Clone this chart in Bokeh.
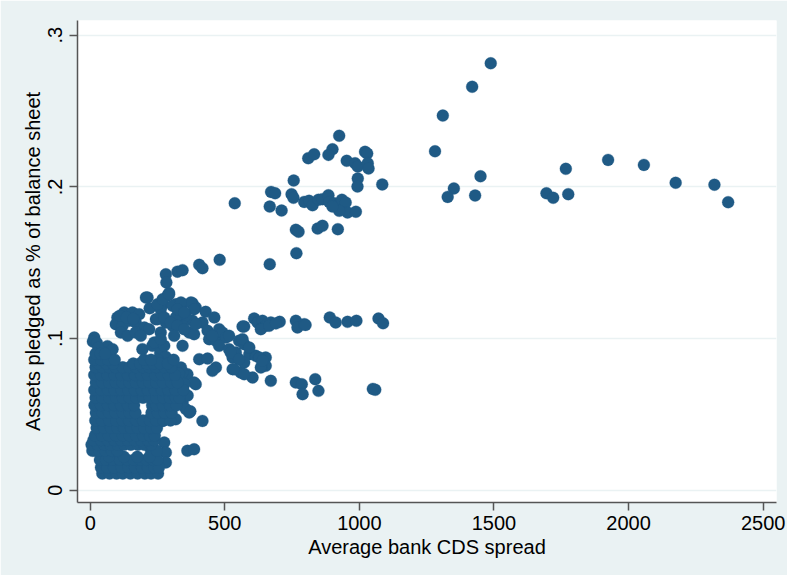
from bokeh.plotting import figure
from bokeh.models import Range1d, FixedTicker, CustomJSTickFormatter
from bokeh.embed import file_html
from bokeh.resources import INLINE

# ---- data: average bank CDS spread (x) vs. assets pledged share (y) ----
outliers_x = [1488, 1419, 1310, 1281, 1450, 1351, 1328, 1430, 1695, 1720, 1776,
              1767, 1924, 2057, 2175, 2319, 2370]
outliers_y = [0.2815, 0.266, 0.247, 0.2235, 0.207, 0.199, 0.1934, 0.1943, 0.1958,
              0.1928, 0.1952, 0.2119, 0.2178, 0.2145, 0.2027, 0.2014, 0.1899]

upper_x = [925, 900, 885, 810, 832, 953, 984, 994, 1021, 1029, 1031, 1034, 1085, 994,
           993, 756, 672, 687, 748, 755, 537, 667, 711, 795, 813, 826, 848, 863, 885,
           888, 906, 919, 935, 949, 956, 925, 987, 900, 764, 774, 845, 863, 920, 766]
upper_y = [0.2337, 0.2248, 0.2211, 0.2189, 0.2215, 0.2172, 0.2156, 0.2134, 0.2231,
           0.222, 0.2156, 0.2121, 0.2016, 0.2055, 0.2002, 0.2042, 0.1967, 0.1958,
           0.1952, 0.1928, 0.1892, 0.187, 0.1844, 0.1901, 0.1908, 0.1879, 0.1915,
           0.1919, 0.1945, 0.1901, 0.1892, 0.1875, 0.1915, 0.1897, 0.1831, 0.1842,
           0.1836, 0.187, 0.1717, 0.1704, 0.1725, 0.1743, 0.1721, 0.1563]

mid_x = [481, 667, 281, 283, 324, 343, 405, 417, 293,
         343, 380, 392, 429, 461, 343, 380, 417, 368, 386, 436, 442, 467, 479, 491,
         504, 479, 553, 572, 516, 541, 591, 529, 615, 652, 405, 436, 572, 609, 622,
         640, 652, 634, 671, 704, 764, 770, 795, 343,
         890, 912, 956, 989, 1071, 1088,
         764, 786, 789, 836, 848, 1059, 1050,
         467, 454, 522, 628, 652, 529, 559, 603, 671, 634, 572,
         361, 343, 392, 343, 368, 417, 361, 386,
         213, 221, 269, 287, 262, 318, 337, 374, 386, 355, 343, 392, 318, 281, 244,
         306, 454, 516, 566, 591, 553, 640, 535, 572, 337, 386, 275, 281, 281, 194,
         225, 331, 306, 269, 318, 269, 219, 293, 269, 324, 293, 324, 275, 256, 269,
         250, 231, 665, 566, 690, 800,
         355, 372, 362, 350, 300, 315, 330, 286, 260, 280, 252, 300]
mid_y = [0.1519, 0.149, 0.1424, 0.137, 0.1441, 0.1451, 0.1486, 0.1464, 0.130,
         0.1226, 0.1233, 0.1205, 0.1176, 0.1139, 0.1139, 0.1117, 0.1106, 0.104,
         0.1029, 0.1051, 0.0996, 0.0985, 0.1062, 0.104, 0.1007, 0.0952, 0.0985,
         0.0963, 0.093, 0.0908, 0.0897, 0.0875, 0.0886, 0.0875, 0.0864, 0.0868,
         0.1079, 0.1132, 0.1106, 0.1117, 0.1084, 0.1062, 0.1106, 0.111, 0.1117,
         0.1073, 0.1095, 0.0952,
         0.1139, 0.1106, 0.111, 0.1117, 0.1132, 0.1101,
         0.071, 0.0699, 0.0633, 0.0732, 0.0655, 0.0662, 0.0668,
         0.0809, 0.0787, 0.0908, 0.0875, 0.082, 0.0798, 0.0776, 0.0743, 0.0721,
         0.0809, 0.0842,
         0.0765, 0.0776, 0.0699, 0.0578, 0.0512, 0.0457, 0.026, 0.027,
         0.127, 0.12, 0.1226, 0.1282, 0.1193, 0.1226, 0.1183, 0.1238, 0.1193, 0.115,
         0.1084, 0.1095, 0.1139, 0.1106, 0.1128, 0.1084, 0.1018, 0.1018, 0.0996,
         0.0941, 0.0864, 0.0853, 0.0798, 0.0765, 0.0809, 0.071, 0.0315, 0.0249,
         0.0183, 0.093, 0.027, 0.0589, 0.0622, 0.0578, 0.0468, 0.0457, 0.0468,
         0.0732, 0.071, 0.0666, 0.0831, 0.0721, 0.0787, 0.0864, 0.0952, 0.0974,
         0.0952, 0.1084, 0.108, 0.110, 0.109,
         0.0535, 0.052, 0.0625, 0.0700, 0.0765, 0.0700, 0.0770, 0.0580, 0.0905,
         0.0880, 0.0860, 0.0520]

blob_x = [101, 126, 157, 182, 95, 120, 145, 169, 201, 219, 114, 139, 169, 188, 207,
          250, 269, 293, 306, 337, 324, 349, 250, 275, 299, 324, 349, 262, 312, 238,
          275, 262, 15, 10, 25, 64, 83, 70, 45, 30, 110, 135, 160]
blob_y = [0.1139, 0.1172, 0.1172, 0.116, 0.1095, 0.1084, 0.1117, 0.1106, 0.1073,
          0.1062, 0.104, 0.1018, 0.104, 0.1018, 0.127, 0.1226, 0.1259, 0.1292,
          0.1216, 0.1238, 0.1193, 0.1172, 0.1128, 0.1139, 0.1106, 0.1084, 0.1062,
          0.104, 0.1018, 0.0974, 0.0952, 0.0996, 0.1007, 0.098, 0.097, 0.095,
          0.093, 0.086, 0.091, 0.094, 0.1150, 0.1140, 0.1130]

# dense low-spread block, read row by row
dense_rows = {
    0.011: [45, 72, 98, 121, 149, 176, 203, 226, 252],
    0.015: [40, 63, 88, 117, 142, 166, 192, 214, 238, 255],
    0.020: [36, 58, 84, 110, 137, 161, 186, 209, 233, 250],
    0.022: [70, 125, 175, 220],
    0.026: [8, 20, 34, 55, 80, 101, 248],
    0.030: [5, 28, 52, 76, 102, 126, 151, 177, 201, 226],
    0.033: [12, 40, 65, 90, 115, 140, 165, 190, 215, 238],
    0.036: [18, 44, 69, 95, 121, 146, 170, 196, 221, 240],
    0.041: [24, 51, 77, 101, 125, 151, 176, 200, 226, 248],
    0.046: [19, 44, 71, 96, 120, 144, 171, 196, 222, 245, 272, 298],
    0.051: [21, 46, 70, 94, 121, 146, 168, 228, 251, 276, 302],
    0.056: [16, 40, 66, 89, 114, 140, 163, 230, 246, 270, 296, 321],
    0.061: [20, 45, 70, 96, 121, 146, 171, 196, 221, 245, 271, 296, 318, 332],
    0.066: [15, 41, 66, 90, 116, 141, 165, 191, 214, 240, 266, 290, 316, 346],
    0.071: [21, 45, 70, 95, 119, 145, 170, 196, 220, 245, 270, 301, 325],
    0.076: [15, 40, 64, 90, 116, 140, 166, 190, 214, 241, 266, 291, 315],
    0.081: [20, 45, 71, 95, 121, 146, 170, 196, 220, 245, 276, 300],
    0.0835: [30, 60, 85, 160, 185, 210, 235, 260, 288],
    0.086: [15, 40, 66, 91, 200, 226, 310],
    0.090: [20, 38, 55],
}

cds_spread = outliers_x + upper_x + mid_x + blob_x
assets_pledged = outliers_y + upper_y + mid_y + blob_y
for yv, xs in dense_rows.items():
    cds_spread += xs
    assets_pledged += [yv] * len(xs)

x_ticks = [0, 500, 1000, 1500, 2000, 2500]
y_ticks = [0, 0.1, 0.2, 0.3]

BG = "#EAF2F3"
MARK = "#1F5A85"
FONT = "Liberation Sans"

p = figure(width=787, height=575,
           x_range=Range1d(-47.2, 2549.6), y_range=Range1d(-0.0081, 0.3097),
           output_backend="svg", toolbar_location=None,
           min_border_left=77, min_border_right=11, min_border_top=20,
           min_border_bottom=73)
p.background_fill_color = "white"
p.border_fill_color = BG
p.outline_line_color = None

p.xgrid.visible = False
p.ygrid.grid_line_color = BG
p.ygrid.grid_line_width = 1.5

p.scatter(cds_spread, assets_pledged, size=12, fill_color=MARK,
          line_color=MARK, line_width=0.3)

p.xaxis.ticker = FixedTicker(ticks=x_ticks)
p.yaxis.ticker = FixedTicker(ticks=y_ticks)
p.yaxis.formatter = CustomJSTickFormatter(
    code="return tick == 0 ? '0' : tick.toFixed(1).replace(/^0/, '');")
p.yaxis.major_label_orientation = "vertical"

p.xaxis.axis_label = "Average bank CDS spread"
p.yaxis.axis_label = "Assets pledged as % of balance sheet"

for ax in (p.xaxis, p.yaxis):
    ax.axis_line_color = "#555555"
    ax.axis_line_width = 1.5
    ax.major_tick_line_color = "#555555"
    ax.major_tick_line_width = 1.5
    ax.major_tick_out = 8
    ax.major_tick_in = 0
    ax.minor_tick_out = 0
    ax.minor_tick_in = 0
    ax.major_label_text_font = FONT
    ax.major_label_text_font_size = "20px"
    ax.major_label_text_color = "black"
    ax.axis_label_text_font = FONT
    ax.axis_label_text_font_size = "20px"
    ax.axis_label_text_font_style = "normal"
    ax.axis_label_text_color = "black"

p.xaxis.major_label_standoff = 5
p.xaxis.axis_label_standoff = 3
p.yaxis.major_label_standoff = 7
p.yaxis.axis_label_standoff = 2

open("out.html", "w").write(file_html(p, INLINE))
